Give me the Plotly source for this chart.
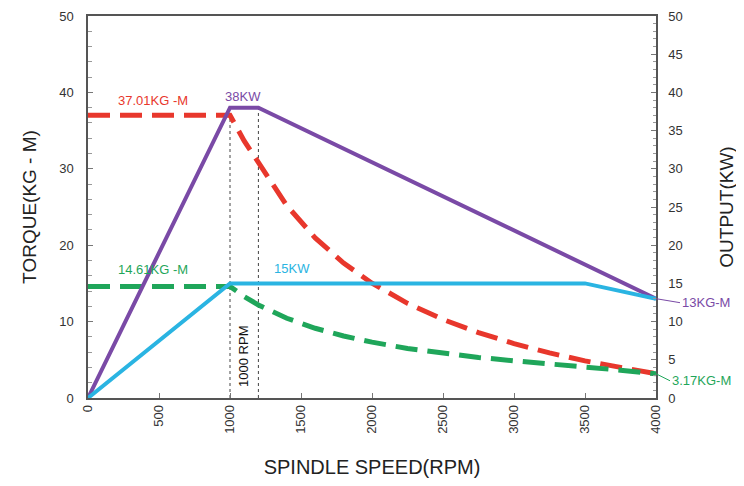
import plotly.graph_objects as go

# ---- data ----
rpm_dash = [0, 1000, 1100, 1200, 1400, 1600, 1800, 2000, 2250, 2500, 2750, 3000, 3250, 3500, 3750, 4000]
torque_38kw = [37.01, 37.01, 33.65, 30.84, 25.19, 20.96, 17.66, 15.03, 12.39, 10.28, 8.56, 7.12, 5.90, 4.86, 3.96, 3.17]
torque_15kw = [14.61, 14.61, 13.28, 12.18, 10.44, 9.13, 8.12, 7.31, 6.49, 5.84, 5.31, 4.87, 4.50, 4.17, 3.64, 3.17]

rpm_p38 = [0, 1000, 1200, 4000]
power_38kw = [0, 38, 38, 13]
rpm_p15 = [0, 1000, 3500, 4000]
power_15kw = [0, 15, 15, 13]

rpm_marks = [1000, 1200]
mark_top = 38

RED = "#e8372c"
PURPLE = "#7a4aa6"
CYAN = "#2ab4e2"
GREEN = "#1fa65a"
FONT = "Liberation Sans, Arial, sans-serif"

fig = go.Figure()

# dotted reference lines
for r in rpm_marks:
    fig.add_trace(go.Scatter(x=[r, r], y=[0, mark_top], mode="lines",
                             line=dict(color="#444", width=1, dash="dot"),
                             showlegend=False, hoverinfo="skip"))

fig.add_trace(go.Scatter(x=rpm_dash, y=torque_38kw, mode="lines",
                         line=dict(color=RED, width=5, dash="22px,10px"),
                         showlegend=False))
fig.add_trace(go.Scatter(x=rpm_dash, y=torque_15kw, mode="lines",
                         line=dict(color=GREEN, width=5, dash="22px,10px"),
                         showlegend=False))
fig.add_trace(go.Scatter(x=rpm_p38, y=power_38kw, mode="lines", yaxis="y2",
                         line=dict(color=PURPLE, width=4),
                         showlegend=False))
fig.add_trace(go.Scatter(x=rpm_p15, y=power_15kw, mode="lines", yaxis="y2",
                         line=dict(color=CYAN, width=4),
                         showlegend=False))

ann = [
    dict(x=455, y=39.0, text="37.01KG -M", font=dict(color=RED, size=13)),
    dict(x=1092, y=39.5, text="38KW", font=dict(color=PURPLE, size=13)),
    dict(x=455, y=16.8, text="14.61KG -M", font=dict(color=GREEN, size=13)),
    dict(x=1440, y=17.0, text="15KW", font=dict(color=CYAN, size=13)),
    dict(x=1100, y=5.4, text="1000 RPM", textangle=-90, font=dict(color="#111", size=13)),
]
annotations = [dict(a, xref="x", yref="y", showarrow=False) for a in ann]
annotations += [
    dict(x=4000, y=13, xref="x", yref="y", text="13KG-M", showarrow=True,
         arrowhead=0, arrowwidth=1, arrowcolor=PURPLE, ax=24, ay=4,
         xanchor="left", font=dict(color=PURPLE, size=13)),
    dict(x=4000, y=3.17, xref="x", yref="y", text="3.17KG-M", showarrow=True,
         arrowhead=0, arrowwidth=1, arrowcolor=GREEN, ax=14, ay=7,
         xanchor="left", font=dict(color=GREEN, size=13)),
]

axis_common = dict(showline=True, linecolor="#555", linewidth=1.5, showgrid=False,
                   zeroline=False, ticks="inside", tickcolor="#777", automargin=False,
                   tickfont=dict(family=FONT, size=13, color="#333"))

fig.update_layout(
    width=736, height=478,
    margin=dict(l=80, r=88, t=8, b=88),
    paper_bgcolor="white", plot_bgcolor="white",
    font=dict(family=FONT),
    showlegend=False,
    annotations=annotations,
    xaxis=dict(axis_common, range=[0, 4000], dtick=500, tickangle=-90, mirror=True,
               ticklen=5, tickfont=dict(family=FONT, size=13, color="#333"),
               title=dict(text="SPINDLE SPEED(RPM)", font=dict(family=FONT, size=20, color="#222"),
                          standoff=27)),
    yaxis=dict(axis_common, range=[0, 50], dtick=10, ticklen=5, ticklabelstandoff=10,
               minor=dict(dtick=2, ticks="inside", ticklen=4, tickcolor="#999"),
               title=dict(text="TORQUE(KG - M)", font=dict(family=FONT, size=19, color="#222"),
                          standoff=18)),
    yaxis2=dict(axis_common, range=[0, 50], dtick=5, overlaying="y", side="right",
                ticklen=5, ticklabelstandoff=8,
                tickfont=dict(family=FONT, size=13, color="#333"),
                minor=dict(dtick=1, ticks="inside", ticklen=3, tickcolor="#999"),
                title=dict(text="OUTPUT(KW)", font=dict(family=FONT, size=19, color="#222"),
                           standoff=38)),
)

fig.write_html("out.html")
